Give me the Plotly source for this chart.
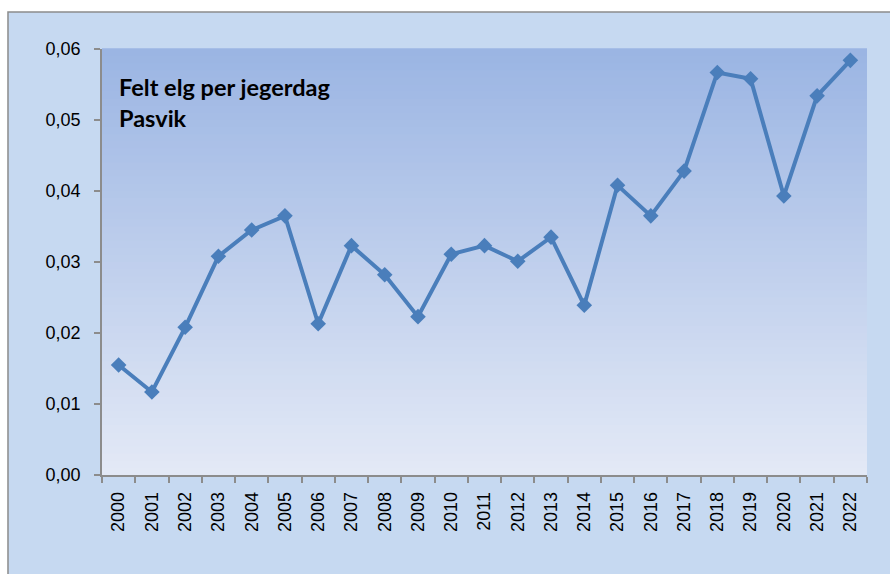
import plotly.graph_objects as go

aar = [str(a) for a in range(2000, 2023)]
felt_per_dag = [0.0155, 0.0117, 0.0208, 0.0308, 0.0345, 0.0365, 0.0213, 0.0323,
                0.0282, 0.0223, 0.0311, 0.0323, 0.0301, 0.0335, 0.0239, 0.0408,
                0.0365, 0.0428, 0.0567, 0.0558, 0.0393, 0.0534, 0.0584]

fig = go.Figure()

# ramme rundt hele diagramområdet
fig.add_shape(type="rect", xref="paper", yref="paper",
              x0=-0.1229, x1=1.1, y0=-0.4, y1=1.0869,
              fillcolor="#c6d9f1", line=dict(color="#8c8c8c", width=1.5), layer="below")

# gradient i plottområdet
n = 60
topp = (155, 181, 227)
bunn = (227, 233, 246)
for i in range(n):
    t = i / (n - 1)
    farge = tuple(round(bunn[k] + (topp[k] - bunn[k]) * t) for k in range(3))
    fig.add_shape(type="rect", xref="paper", yref="paper",
                  x0=0, x1=1, y0=i / n, y1=(i + 1) / n + 0.002,
                  fillcolor="rgb(%d,%d,%d)" % farge, line=dict(width=0), layer="below")

fig.add_trace(go.Scatter(
    x=aar, y=felt_per_dag, mode='lines+markers',
    line=dict(color='#4a7ebb', width=4),
    marker=dict(symbol='diamond', size=12, color='#4a7ebb'),
    hoverinfo='x+y', showlegend=False
))

fig.add_annotation(
    text="<b>Felt elg per jegerdag<br>Pasvik</b>",
    xref="paper", yref="paper", x=0.0235, y=0.948, xanchor="left", yanchor="top",
    showarrow=False, align="left", xshift=-3,
    font=dict(family="Lato", size=23.5, color="black")
)

fig.update_layout(
    width=890, height=574,
    margin=dict(l=102, r=23, t=49, b=99),
    paper_bgcolor='white', plot_bgcolor='rgba(0,0,0,0)',
    separators=', ',
    font=dict(family="Liberation Sans", size=18, color="black"),
    xaxis=dict(type='category', range=[-0.5, len(aar) - 0.5], tickson='boundaries',
               ticks='outside', ticklen=6,
               tickcolor='#8c8c8c', tickwidth=1.5, showline=True, linecolor='#8c8c8c',
               linewidth=1.5, showgrid=False, tickangle=-90, zeroline=False,
               ticklabelstandoff=8, automargin=False),
    yaxis=dict(range=[0, 0.06], dtick=0.01, tickformat='.2f', ticks='outside', ticklen=6,
               tickcolor='#8c8c8c', tickwidth=1.5, showline=True, linecolor='#8c8c8c',
               linewidth=1.5, showgrid=False, zeroline=False, ticklabelstandoff=10,
               automargin=False),
)

# fjern sidemarg slik at figuren fyller vinduet
fig.write_html("out.html", config={'displayModeBar': False},
               post_script="document.body.style.margin='0';document.body.style.overflow='hidden';")
